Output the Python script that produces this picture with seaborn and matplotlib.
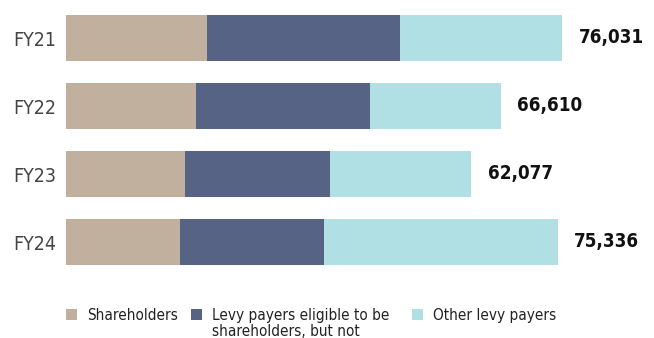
import matplotlib
matplotlib.use("Agg")
import matplotlib.pyplot as plt
import seaborn as sns
import pandas as pd
from matplotlib.patches import Patch

years = ["FY21", "FY22", "FY23", "FY24"]
shareholders = [21613, 19926, 18284, 17493]
eligible = [29479, 26631, 22184, 22026]
other = [24939, 20053, 21609, 35817]
totals = [76031, 66610, 62077, 75336]
series_names = ["Shareholders", "Levy payers eligible to be", "Other levy payers"]
wrap_line = "shareholders, but not"
colors = ["#C2B09E", "#566384", "#B0DFE4"]

sns.set_theme(style="white")
plt.rcParams['font.family'] = ['DejaVu Sans']
plt.rcParams['font.stretch'] = 'condensed'

df = pd.DataFrame({"year": years, "sh": shareholders, "el": eligible, "ot": other, "total": totals})
df["cum1"] = df["sh"]
df["cum2"] = df["sh"] + df["el"]
df["cum3"] = df["sh"] + df["el"] + df["ot"]

W, H = 654, 338
fig = plt.figure(figsize=(W/100, H/100), dpi=100)
ax = fig.add_axes([66/W, 1 - 276/H, 555/W, 272/H])

for col, c in zip(["cum3", "cum2", "cum1"], colors[::-1]):
    sns.barplot(data=df, y="year", x=col, order=years, color=c, width=0.68,
                orient="h", ax=ax, saturation=1, linewidth=0)

ax.set_xlim(0, 85000)
ax.set_xlabel("")
ax.set_ylabel("")
ax.set_xticks([])
for s in ax.spines.values():
    s.set_visible(False)
ax.tick_params(axis="y", length=0, pad=7, labelsize=14, labelcolor="#444444")

for i, t in enumerate(totals):
    ax.text(t + 2500, i, f"{t:,}", va="center", ha="left", fontsize=13.5,
            fontweight="bold", color="#111111")

xs = [66, 191, 412]
legs = []
for x, name, c in zip(xs, series_names, colors):
    lg = fig.legend([Patch(facecolor=c, edgecolor="none")], [name], loc="center left",
                    bbox_to_anchor=(x/W, 1 - 315.5/H), frameon=False, fontsize=11,
                    handlelength=0.75, handleheight=0.75, handletextpad=0.6,
                    borderpad=0, borderaxespad=0, labelcolor="#222222")
    legs.append(lg)

fig.canvas.draw()
tx = legs[1].get_texts()[0]
bb = tx.get_window_extent(renderer=fig.canvas.get_renderer())
fig.text(bb.x0 / W, 1 - 336.5/H, wrap_line, ha="left", va="baseline",
         fontsize=11, color="#222222")

fig.savefig("out.png", dpi=100)
